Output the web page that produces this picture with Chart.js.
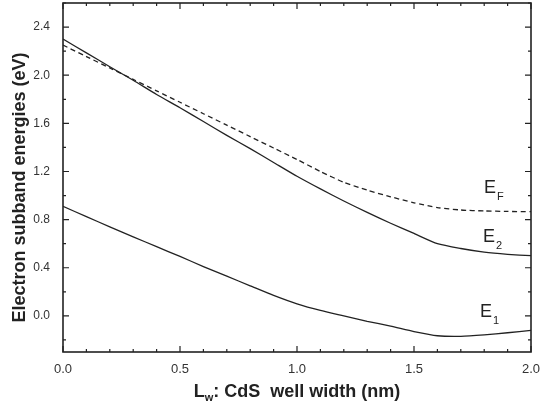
<!DOCTYPE html>
<html>
<head>
<meta charset="utf-8">
<script src="https://cdn.jsdelivr.net/npm/chart.js@4"></script>
<style>
  html, body { margin: 0; padding: 0; background: #fff; }
  #wrap { width: 540px; height: 412px; }
</style>
</head>
<body>
<div id="wrap"><canvas id="chart"></canvas></div>
<script>
// well width (nm)
const widths = [0, 0.1, 0.2, 0.3, 0.4, 0.5, 0.6, 0.7, 0.8, 0.9, 1.0,
                1.1, 1.2, 1.3, 1.4, 1.5, 1.6, 1.7, 1.8, 1.9, 2.0];
// subband energies (eV)
const e1 = [0.91, 0.825, 0.74, 0.657, 0.575, 0.494, 0.41, 0.33, 0.25, 0.17, 0.10,
            0.045, 0.00, -0.045, -0.085, -0.13, -0.165, -0.17, -0.158, -0.14, -0.12];
const e2 = [2.30, 2.186, 2.07, 1.958, 1.84, 1.73, 1.615, 1.50, 1.39, 1.275, 1.16,
            1.055, 0.955, 0.86, 0.77, 0.685, 0.60, 0.56, 0.53, 0.512, 0.50];
const ef = [2.25, 2.155, 2.06, 1.965, 1.87, 1.775, 1.68, 1.585, 1.49, 1.395, 1.30,
            1.20, 1.11, 1.045, 0.99, 0.94, 0.90, 0.88, 0.872, 0.868, 0.866];

const xMajor = [0, 0.5, 1.0, 1.5, 2.0];
const xMinor = [0.1, 0.2, 0.3, 0.4, 0.6, 0.7, 0.8, 0.9, 1.1, 1.2, 1.3, 1.4, 1.6, 1.7, 1.8, 1.9];
const yMajor = [0.0, 0.4, 0.8, 1.2, 1.6, 2.0, 2.4];
const yMinor = [-0.2, 0.2, 0.6, 1.0, 1.4, 1.8, 2.2, 2.6];

const ink = '#222';

const pts = (ys) => widths.map((x, i) => ({x: x, y: ys[i]}));

// frame, inward ticks on all four sides, axis titles and curve labels
const decorations = {
  id: 'decorations',
  afterDraw(chart) {
    const ctx = chart.ctx;
    const a = chart.chartArea;
    const xs = chart.scales.x, ys = chart.scales.y;
    ctx.save();
    ctx.strokeStyle = ink;
    ctx.lineWidth = 1.6;
    ctx.strokeRect(a.left, a.top, a.right - a.left, a.bottom - a.top);

    ctx.lineWidth = 1.2;
    ctx.beginPath();
    const tx = (v, len) => {
      const p = xs.getPixelForValue(v);
      ctx.moveTo(p, a.bottom); ctx.lineTo(p, a.bottom - len);
      ctx.moveTo(p, a.top); ctx.lineTo(p, a.top + len);
    };
    const ty = (v, len) => {
      const p = ys.getPixelForValue(v);
      ctx.moveTo(a.left, p); ctx.lineTo(a.left + len, p);
      ctx.moveTo(a.right, p); ctx.lineTo(a.right - len, p);
    };
    xMajor.forEach(v => tx(v, 6));
    xMinor.forEach(v => tx(v, 3));
    yMajor.forEach(v => ty(v, 6));
    yMinor.forEach(v => ty(v, 3));
    ctx.stroke();

    ctx.fillStyle = ink;
    ctx.textBaseline = 'alphabetic';

    // x title with subscript
    const big = 'bold 18px "Liberation Sans", Arial, sans-serif';
    const sub = 'bold 11px "Liberation Sans", Arial, sans-serif';
    const rest = ': CdS  well width (nm)';
    ctx.font = big; const wL = ctx.measureText('L').width; const wR = ctx.measureText(rest).width;
    ctx.font = sub; const wS = ctx.measureText('w').width;
    let x0 = (a.left + a.right) / 2 - (wL + wS + wR) / 2;
    const yb = 397;
    ctx.textAlign = 'left';
    ctx.font = big; ctx.fillText('L', x0, yb);
    ctx.font = sub; ctx.fillText('w', x0 + wL, yb + 4);
    ctx.font = big; ctx.fillText(rest, x0 + wL + wS, yb);

    // y title
    ctx.save();
    ctx.translate(25, (a.top + a.bottom) / 2 + 10);
    ctx.rotate(-Math.PI / 2);
    ctx.textAlign = 'center';
    ctx.font = big;
    ctx.fillText('Electron subband energies (eV)', 0, 0);
    ctx.restore();

    // curve labels
    const lab = (main, s, x, y) => {
      ctx.textAlign = 'left';
      ctx.font = '18px "Liberation Sans", Arial, sans-serif';
      ctx.fillText(main, x, y);
      const w = ctx.measureText(main).width;
      ctx.font = '11px "Liberation Sans", Arial, sans-serif';
      ctx.fillText(s, x + w + 1, y + 7);
    };
    lab('E', 'F', 484, 193);
    lab('E', '2', 483, 242);
    lab('E', '1', 480, 317);
    ctx.restore();
  }
};

const line = (ys, dash) => ({
  data: pts(ys),
  borderColor: ink,
  borderWidth: 1.3,
  borderDash: dash,
  pointRadius: 0,
  tension: 0.2,
  fill: false
});

const noPad = s => { s.paddingLeft = 0; s.paddingRight = 0; s.paddingTop = 0; s.paddingBottom = 0; };

new Chart(document.getElementById('chart'), {
  type: 'line',
  data: {
    datasets: [line(e1, []), line(e2, []), line(ef, [5, 3.5])]
  },
  options: {
    responsive: true,
    maintainAspectRatio: false,
    animation: false,
    layout: { padding: { top: 3, right: 9, left: 0, bottom: 0 } },
    plugins: { legend: { display: false }, tooltip: { enabled: false } },
    scales: {
      x: {
        type: 'linear',
        min: 0, max: 2,
        grid: { display: false, drawTicks: false },
        border: { display: false },
        afterBuildTicks: s => { s.ticks = xMajor.map(v => ({value: v})); },
        afterFit: s => { s.height = 60; noPad(s); },
        ticks: {
          padding: 10,
          color: '#333',
          font: { family: '"Liberation Sans", Arial, sans-serif', size: 13 },
          callback: v => v.toFixed(1)
        }
      },
      y: {
        min: -0.3, max: 2.6,
        grid: { display: false, drawTicks: false },
        border: { display: false },
        afterBuildTicks: s => { s.ticks = yMajor.map(v => ({value: v})); },
        afterFit: s => { s.width = 63; noPad(s); },
        ticks: {
          padding: 13,
          color: '#333',
          font: { family: '"Liberation Sans", Arial, sans-serif', size: 12 },
          callback: v => v.toFixed(1)
        }
      }
    }
  },
  plugins: [decorations]
});
</script>
</body>
</html>
